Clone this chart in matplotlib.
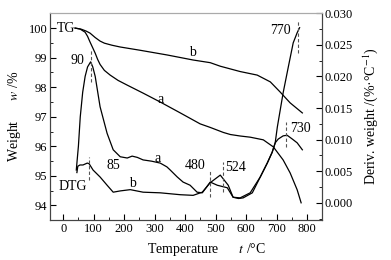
import matplotlib
matplotlib.use("Agg")
import matplotlib.pyplot as plt
from matplotlib.ticker import MultipleLocator, FormatStrFormatter

plt.rcParams['font.family'] = ['Liberation Serif', 'DejaVu Serif', 'DejaVu Sans']
plt.rcParams['mathtext.fontset'] = 'stix'
plt.rcParams['font.size'] = 9

# TG curves: temperature (C), weight (%)
tg_a_t = [39, 55, 72, 80, 88, 97, 105, 113, 121, 135, 154, 180, 210, 262, 318, 384, 449,
          482, 525, 548, 580, 613, 656, 689, 721, 744, 767, 780]
tg_a_w = [100.0, 99.97, 99.86, 99.72, 99.53, 99.33, 99.15, 98.94, 98.77, 98.57, 98.41,
          98.23, 98.07, 97.80, 97.50, 97.13, 96.76, 96.64, 96.47, 96.40, 96.35, 96.31,
          96.22, 95.98, 95.54, 95.10, 94.53, 94.09]

tg_b_t = [39, 60, 75, 88, 105, 121, 135, 160, 187, 252, 341, 426, 482, 515, 580, 636,
          679, 711, 744, 784]
tg_b_w = [100.0, 99.96, 99.90, 99.83, 99.68, 99.56, 99.49, 99.42, 99.36, 99.25, 99.09,
          98.92, 98.83, 98.71, 98.53, 98.41, 98.18, 97.84, 97.47, 97.13]

# DTG curves: temperature (C), deriv. weight (%/C)
dtg_a_t = [43, 50, 56, 64, 72, 80, 90, 97, 105, 121, 144, 164, 187, 210, 226, 243, 262,
           290, 318, 340, 351, 374, 393, 416, 439, 456, 470, 482, 505, 538, 557, 575,
           590, 620, 646, 669, 685, 695, 702, 721, 738, 754, 767, 775]
dtg_a_d = [0.0052, 0.0090, 0.0136, 0.0175, 0.0200, 0.0215, 0.0223, 0.0215, 0.0200,
           0.0152, 0.0110, 0.0084, 0.0073, 0.0071, 0.0074, 0.0072, 0.0068, 0.0066,
           0.0063, 0.0057, 0.0052, 0.0041, 0.0033, 0.0028, 0.0017, 0.0016, 0.0025,
           0.0033, 0.0028, 0.0024, 0.0009, 0.0007, 0.0008, 0.0016, 0.0041, 0.0063,
           0.0080, 0.0095, 0.0120, 0.0174, 0.0215, 0.0253, 0.0269, 0.0277]

dtg_b_t = [45, 48, 55, 65, 79, 85, 98, 121, 144, 164, 187, 220, 262, 318, 384, 426, 456,
           482, 515, 541, 557, 580, 613, 646, 669, 685, 695, 705, 721, 734, 751, 767, 784]
dtg_b_d = [0.0048, 0.0058, 0.0060, 0.0060, 0.0063, 0.0062, 0.0052, 0.0041, 0.0028,
           0.0017, 0.0019, 0.0021, 0.0017, 0.0016, 0.0013, 0.0012, 0.0017, 0.0032,
           0.0044, 0.0028, 0.0009, 0.0008, 0.0016, 0.0041, 0.0063, 0.0080, 0.0095,
           0.0101, 0.0106, 0.0107, 0.0101, 0.0095, 0.0084]

# peak markers: temperature, dashed-line extent on DTG axis
peaks_t = [91, 85, 480, 524, 730, 770]
peaks_lo = [0.0191, 0.0036, 0.0009, 0.0017, 0.0088, 0.0237]
peaks_hi = [0.0242, 0.0073, 0.0052, 0.0065, 0.0128, 0.0289]

fig = plt.figure(figsize=(3.91, 2.60), dpi=100)
ax = fig.add_axes([0.128, 0.154, 0.696, 0.796])
ax2 = ax.twinx()

lw = 0.9
ax.plot(tg_a_t, tg_a_w, color='black', lw=lw)
ax.plot(tg_b_t, tg_b_w, color='black', lw=lw)
ax2.plot(dtg_a_t, dtg_a_d, color='black', lw=lw)
ax2.plot(dtg_b_t, dtg_b_d, color='black', lw=lw)

for t, lo, hi in zip(peaks_t, peaks_lo, peaks_hi):
    ax2.plot([t, t], [lo, hi], color='#555555', lw=0.8, ls=(0, (3, 2)))

ax.set_xlim(-43, 849)
ax.set_ylim(93.51, 100.51)
ax2.set_ylim(-0.00269, 0.03002)

ax.xaxis.set_major_locator(MultipleLocator(100))
ax.xaxis.set_minor_locator(MultipleLocator(50))
ax.yaxis.set_major_locator(MultipleLocator(1))
ax.yaxis.set_minor_locator(MultipleLocator(0.5))
ax2.yaxis.set_major_locator(MultipleLocator(0.005))
ax2.yaxis.set_minor_locator(MultipleLocator(0.0025))
ax2.yaxis.set_major_formatter(FormatStrFormatter('%.3f'))

ax.tick_params(which='both', direction='in', top=False, right=False, labelsize=9, pad=2)
ax.tick_params(which='major', length=4)
ax.tick_params(which='minor', length=2)
ax2.tick_params(which='both', direction='in', labelsize=9, pad=2)
ax2.tick_params(which='major', length=4)
ax2.tick_params(which='minor', length=2)

for a in (ax, ax2):
    for s in a.spines.values():
        s.set_linewidth(0.8)
        s.set_color('#444444')
ax.spines['top'].set_color('#aaaaaa')
ax2.spines['top'].set_color('#aaaaaa')

ax.set_xlabel('Temperature      $t$ /°C', fontsize=10)
ax.xaxis.set_label_coords(0.574, -0.10)
ax.set_ylabel('Weight      $w$ /%', fontsize=10, labelpad=4)
ax2.set_ylabel('Deriv. weight /(%·°C$^{-1}$)', fontsize=10, labelpad=6)

labels = [('TG', 10, 99.97), ('b', 423, 99.16), ('a', 318, 97.57), ('90', 46, 98.92),
          ('85', 164, 95.34), ('a', 308, 95.6), ('b', 226, 94.76), ('DTG', 30, 94.63),
          ('480', 433, 95.34), ('524', 564, 95.27), ('730', 777, 96.62), ('770', 711, 99.93)]
for s, x, y in labels:
    ax.text(x, y, s, ha='center', va='center', fontsize=10)

fig.savefig('out.png', dpi=100)
